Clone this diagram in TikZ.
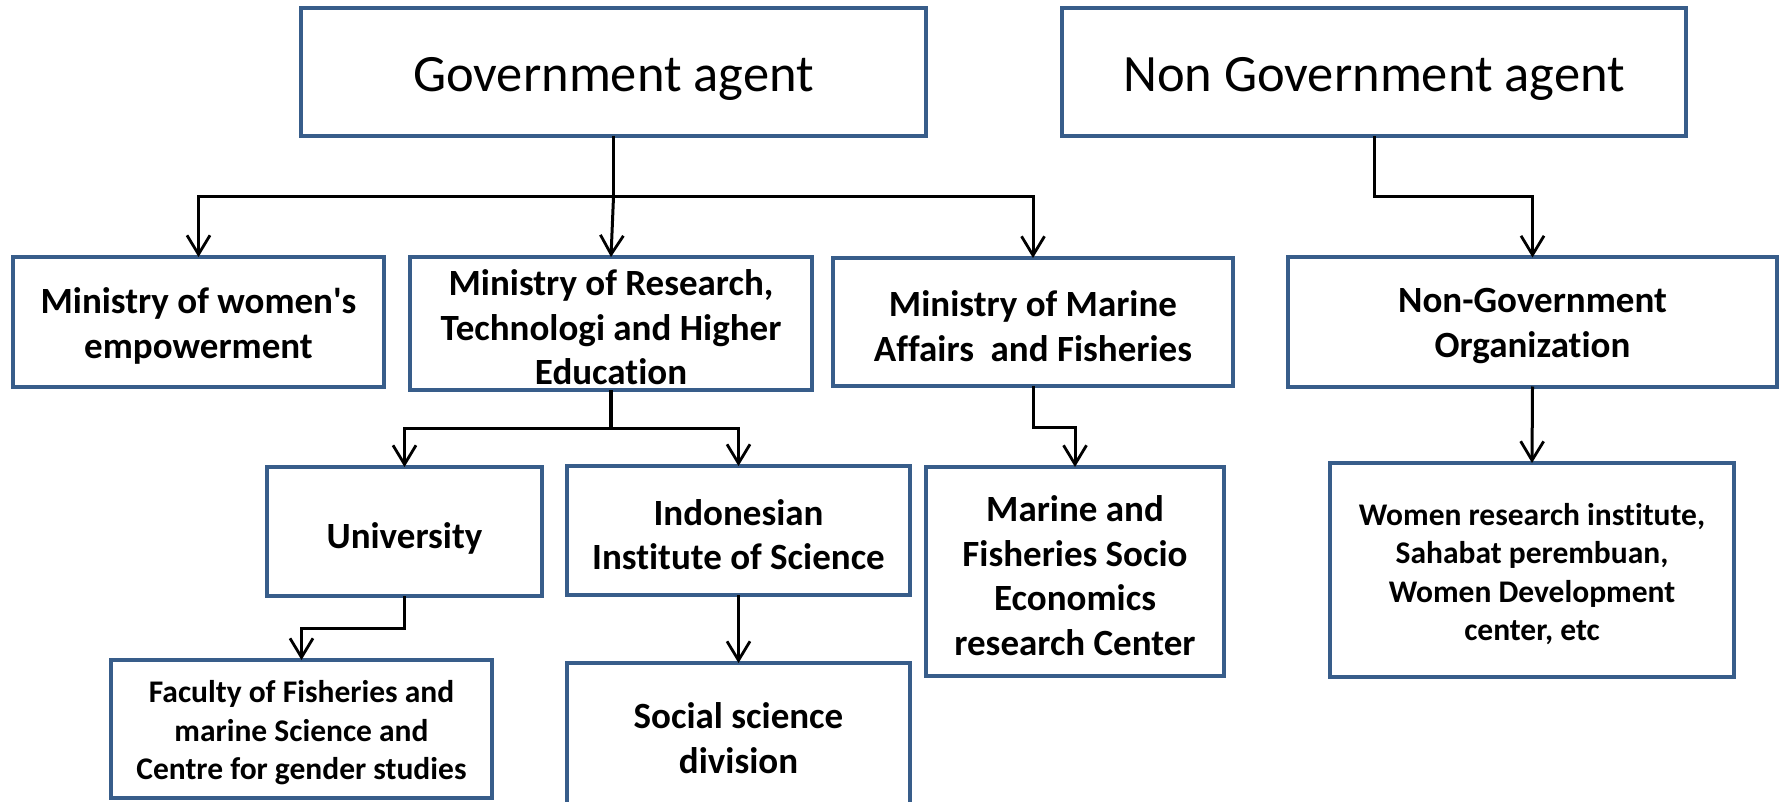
\documentclass[tikz,border=0pt]{standalone}
\usepackage{fontspec}
\setmainfont{Carlito}[Ligatures={TeX,NoCommon}]
\usetikzlibrary{arrows.meta}
\definecolor{boxblue}{RGB}{56,93,138}
\tikzset{
  box/.style={draw=boxblue, line width=4pt, fill=white, rectangle, inner sep=0pt, outer sep=0pt},
  txt/.style={align=center, text=black, inner sep=0pt, yshift=-4pt},
  topfont/.style={font=\fontsize{52.5}{63}\selectfont},
  bigfont/.style={font=\fontsize{37}{44.5}\selectfont\bfseries},
  smallfont/.style={font=\fontsize{31.5}{38.5}\selectfont\bfseries},
  conn/.style={line width=3.4pt, black},
  arr/.style={line width=3pt, black, -{Straight Barb[length=19pt,width=23pt,line width=2.8pt]}}
}
\begin{document}
\begin{tikzpicture}[x=1pt,y=-1pt]
\useasboundingbox (0,0) rectangle (1785,802);
\clip (0,0) rectangle (1785,802);
% top row
\node[box,minimum width=625pt,minimum height=128pt] (gov) at (613.5,72) {};
\node[txt,topfont,yshift=-3pt] at (gov.center) {Government agent};
\node[box,minimum width=624pt,minimum height=128pt] (ngov) at (1374,72) {};
\node[txt,topfont,yshift=-3pt] at (ngov.center) {Non Government agent};
% second row
\node[box,minimum width=371pt,minimum height=130pt] (women) at (198.5,322) {};
\node[txt,bigfont] at (women.center) {Ministry of women\textquotesingle s\\empowerment};
\node[box,minimum width=402pt,minimum height=133pt] (mor) at (611,323.5) {};
\node[txt,bigfont] at (mor.center) {Ministry of Research,\\Technologi and Higher\\Education};
\node[box,minimum width=400pt,minimum height=128pt] (mmaf) at (1033,322) {};
\node[txt,bigfont] at (mmaf.center) {Ministry of Marine\\Affairs\ \ and Fisheries};
\node[box,minimum width=489pt,minimum height=129pt] (ngo) at (1532.5,322) {};
\node[txt,bigfont] at (ngo.center) {Non-Government\\Organization};
% third row
\node[box,minimum width=275pt,minimum height=129pt] (uni) at (404.5,531.5) {};
\node[txt,bigfont,yshift=-3pt] at (uni.center) {University};
\node[box,minimum width=343pt,minimum height=129pt] (lipi) at (738.5,530.5) {};
\node[txt,bigfont] at (lipi.center) {Indonesian\\Institute of Science};
\node[box,minimum width=298pt,minimum height=209pt] (mfsec) at (1075,571.5) {};
\node[txt,bigfont] at (mfsec.center) {Marine and\\Fisheries Socio\\Economics\\research Center};
\node[box,minimum width=404pt,minimum height=214pt] (wri) at (1532,570) {};
\node[txt,smallfont] at (wri.center) {Women research institute,\\Sahabat perembuan,\\Women Development\\center, etc};
% fourth row
\node[box,minimum width=381pt,minimum height=138pt] (fac) at (301.5,729) {};
\node[txt,smallfont] at (fac.center) {Faculty of Fisheries and\\marine Science and\\Centre for gender studies};
\node[box,minimum width=343pt,minimum height=148pt] (soc) at (738.5,737) {};
\node[txt,bigfont,yshift=3pt] at (soc.center) {Social science\\division};
% connectors
\coordinate (govbar) at (613.5,197);
\draw[conn] (gov.south) -- (govbar);
\draw[arr] (govbar) -| (women.north);
\draw[arr] (govbar) -- (mor.north);
\draw[arr] (govbar) -| (mmaf.north);
\draw[arr] (ngov.south) -- ++(0,61) -| (ngo.north);
\coordinate (morbar) at (611,428);
\draw[conn] (mor.south) -- (morbar);
\draw[arr] (morbar) -| (uni.north);
\draw[arr] (morbar) -| (lipi.north);
\draw[arr] (mmaf.south) -- ++(0,41) -| (mfsec.north);
\draw[arr] (ngo.south) -- (wri.north);
\draw[arr] (uni.south) -- ++(0,32) -| (fac.north);
\draw[arr] (lipi.south) -- (soc.north);
\end{tikzpicture}
\end{document}
